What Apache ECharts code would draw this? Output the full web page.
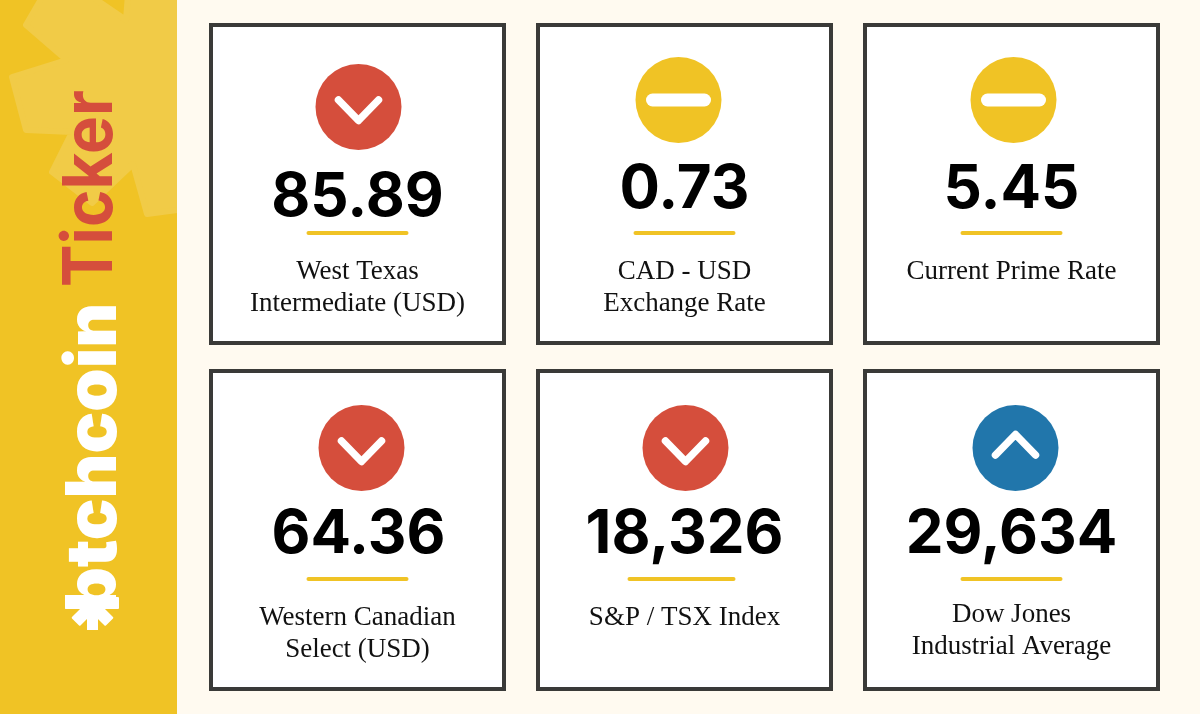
<!DOCTYPE html>
<html><head><meta charset="utf-8">
<style>html,body{margin:0;padding:0;background:#fffaf0}#c{width:1200px;height:714px}</style>
<script src="https://cdn.jsdelivr.net/npm/echarts@6/dist/echarts.min.js"></script>
</head><body><div id="c"></div>
<script>
// ---- data ----
const columns = ['Left', 'Middle', 'Right'];
const rows = ['Top', 'Bottom'];
const values = ['85.89', '0.73', '5.45', '64.36', '18,326', '29,634'];
const labels = [
  ['West Texas', 'Intermediate (USD)'],
  ['CAD - USD', 'Exchange Rate'],
  ['Current Prime Rate'],
  ['Western Canadian', 'Select (USD)'],
  ['S&P / TSX Index'],
  ['Dow Jones', 'Industrial Average']
];
const directions = ['down', 'flat', 'flat', 'down', 'down', 'up'];
const brandWord = 'btchcoin';
const titleWord = 'Ticker';

// ---- styles and per-card offsets from the card centre ----
const dirColor = { down: '#d54e3c', flat: '#f0c325', up: '#2176ab' };
const iconOffset = [[1, -77], [-6, -84], [2, -84], [4, -82], [1, -82], [4, -82]];
const numOffset = [[0, 14], [0, 6], [0, 6], [1, 5], [0, 5], [0, 5]];
const ruleOffset = [[-51, 49], [-51, 49], [-51, 49], [-51, 49], [-57, 49], [-51, 49]];
const ruleWidth = [102, 102, 102, 102, 108, 102];
const labelOffset = [[0, 87.5], [0, 87.5], [0, 87.5], [0, 87.5], [0, 87.5], [0, 84.5]];
const lineGap = 32;
const cardW = 297, cardH = 322, bw = 4;

const serif = '"Liberation Serif", serif';
const sans = 'Inter, sans-serif';

function renderCard(params, api) {
  const i = params.dataIndex;
  const c = api.coord([api.value(0), api.value(1)]);
  const d = directions[i], r = 43;
  const ix = c[0] + iconOffset[i][0], iy = c[1] + iconOffset[i][1];
  const kids = [
    { type: 'rect', shape: { x: c[0] - cardW / 2 + bw / 2, y: c[1] - cardH / 2 + bw / 2, width: cardW - bw, height: cardH - bw },
      style: { fill: '#ffffff', stroke: '#3a3a38', lineWidth: bw } },
    { type: 'circle', shape: { cx: ix, cy: iy, r: r }, style: { fill: dirColor[d] } }
  ];
  if (d === 'flat') {
    kids.push({ type: 'rect', shape: { x: ix - 32.5, y: iy - 6.5, width: 65, height: 13, r: 6.5 }, style: { fill: '#fff' } });
  } else {
    const s = d === 'down' ? 1 : -1;
    kids.push({ type: 'polyline', shape: { points: [[ix - 20, iy - 7 * s], [ix, iy + 13.5 * s], [ix + 20, iy - 7 * s]] },
      style: { fill: 'none', stroke: '#fff', lineWidth: 7.5, lineCap: 'round', lineJoin: 'round' } });
  }
  kids.push({ type: 'text', style: { x: c[0] + numOffset[i][0], y: c[1] + numOffset[i][1], text: values[i], fill: '#000',
    font: '700 60px ' + sans, textAlign: 'center', textVerticalAlign: 'middle' } });
  kids.push({ type: 'rect', shape: { x: c[0] + ruleOffset[i][0], y: c[1] + ruleOffset[i][1] - 2, width: ruleWidth[i], height: 4, r: 2 }, style: { fill: '#f0c325' } });
  labels[i].forEach((t, k) => kids.push({ type: 'text', style: {
    x: c[0] + labelOffset[i][0], y: c[1] + labelOffset[i][1] + k * lineGap, text: t, fill: '#111',
    font: '400 27px ' + serif, textAlign: 'center', textVerticalAlign: 'middle' } }));
  return { type: 'group', children: kids };
}

// decorative watermark outline behind the title
const watermark = [[26, 25], [44, -6], [88, -6], [126, 20], [128, -6], [215, -6], [215, 205], [147, 214],
  [133, 164], [92, 203], [52, 172], [72, 132], [26, 130], [12, 77], [66.5, 60]];

// small asterisk of the logo
const logoBars = [
  { x: 65, y: 597, width: 54, height: 12, r: 1, rot: 0, ox: 0, oy: 0 },
  { x: 87, y: 605, width: 11, height: 25, r: 0, rot: 0, ox: 0, oy: 0 },
  { x: 86.5, y: 605, width: 12, height: 24, r: 1, rot: 45, ox: 92.5, oy: 605 },
  { x: 86.5, y: 605, width: 12, height: 24, r: 1, rot: -45, ox: 92.5, oy: 605 }
].map(b => ({ type: 'rect', x: b.ox, y: b.oy, originX: 0, originY: 0, rotation: b.rot * Math.PI / 180,
  shape: { x: b.x - b.ox, y: b.y - b.oy, width: b.width, height: b.height, r: b.r }, style: { fill: '#fff' }, z: 4 }));

const chart = echarts.init(document.getElementById('c'), null, { renderer: 'canvas' });
chart.setOption({
  backgroundColor: '#fffaf0',
  animation: false,
  grid: { left: 194, top: 11, width: 981, height: 692 },
  xAxis: { type: 'category', data: columns, show: false },
  yAxis: { type: 'category', data: rows, inverse: true, show: false },
  graphic: { elements: [
    { type: 'rect', shape: { x: 0, y: 0, width: 177, height: 714 }, style: { fill: '#f0c325' }, z: 0 },
    { type: 'polygon', shape: { points: watermark }, style: { fill: '#f1cb47', stroke: '#f1cb47', lineWidth: 6, lineJoin: 'round' }, z: 1 },
    { type: 'rect', shape: { x: 177, y: 0, width: 1023, height: 714 }, style: { fill: '#fffaf0' }, z: 2 },
    { type: 'text', x: 95.3, y: 612, rotation: Math.PI / 2, scaleX: 0.99, z: 3, style: { text: brandWord, fill: '#fff', font: '900 70px ' + sans, textAlign: 'left', textVerticalAlign: 'middle' } },
    ...logoBars,
    { type: 'text', x: 91.6, y: 287, rotation: Math.PI / 2, scaleX: 0.925, z: 4, style: { text: titleWord, fill: '#d54e3c', font: '700 69px ' + sans, textAlign: 'left', textVerticalAlign: 'middle' } }
  ] },
  series: [{
    type: 'custom', coordinateSystem: 'cartesian2d', silent: true, z: 5,
    renderItem: renderCard, encode: { x: 0, y: 1 },
    data: values.map((v, i) => [columns[i % 3], rows[Math.floor(i / 3)]])
  }]
});
</script></body></html>
